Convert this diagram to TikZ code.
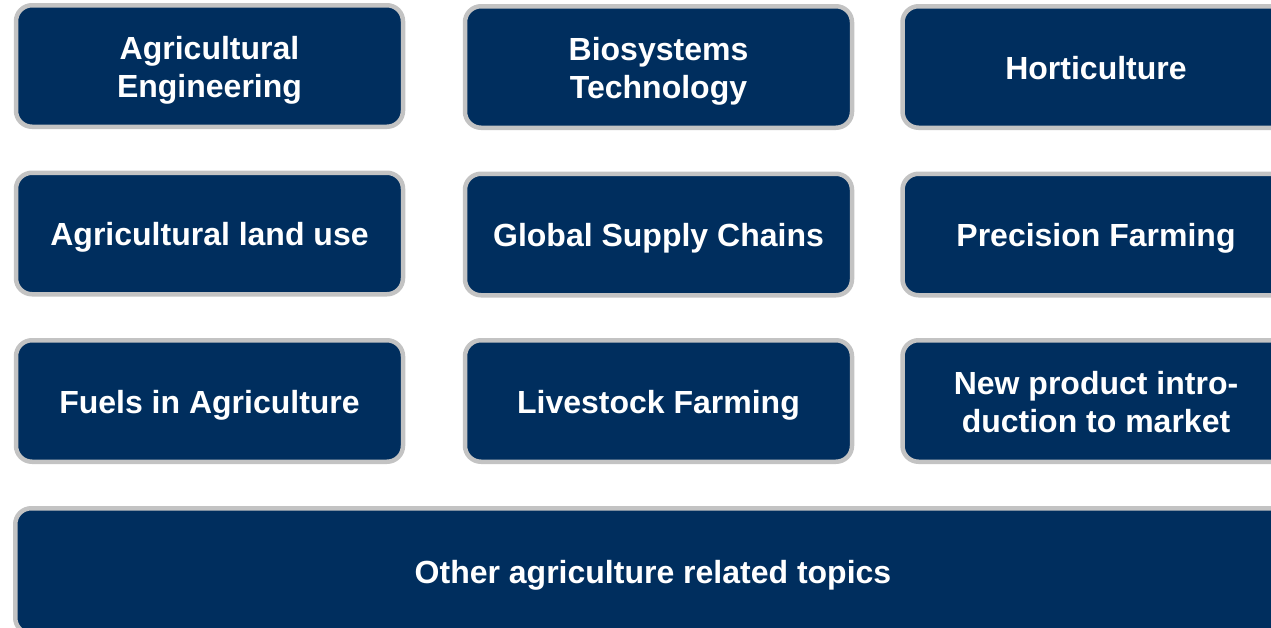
\documentclass[tikz,border=0pt]{standalone}
\usepackage{fontspec}
\setmainfont{Liberation Sans}
\definecolor{navy}{HTML}{002E5E}
\definecolor{rim}{HTML}{C3C3C3}
\newcommand{\twolines}[2]{\rule{0pt}{54pt}\begin{tabular}{@{}c@{}}#1\\#2\end{tabular}}
\begin{document}
\begin{tikzpicture}[x=1pt,y=-1pt,
  tile/.style={rectangle, rounded corners=16pt, draw=rim, line width=4.5pt, fill=navy,
    text=white, font=\bfseries\fontsize{32}{38.5}\selectfont,
    inner sep=0pt, minimum width=387pt, minimum height=121.5pt,
    execute at begin node={\rule[-7pt]{0pt}{38.5pt}}}]
\useasboundingbox (0,0) rectangle (1271,627);
\clip (0,0) rectangle (1271,627);
\node[tile] (ae) at (209.5,66) {\twolines{Agricultural}{Engineering}};
\node[tile] (bt) at (658.5,67) {\twolines{Biosystems}{Technology}};
\node[tile] (ho) at (1096,67) {Horticulture};
\node[tile] (lu) at (209.5,233.5) {Agricultural land use};
\node[tile] (gs) at (658.5,234.5) {Global Supply Chains};
\node[tile] (pf) at (1096,234.5) {Precision Farming};
\node[tile] (fa) at (209.5,401) {Fuels in Agriculture};
\node[tile] (lf) at (658.5,401) {Livestock Farming};
\node[tile] (np) at (1096,401) {\twolines{New product intro-}{duction to market}};
\node[tile, minimum width=1275.5pt, minimum height=125.5pt] (ot) at (653,571) {Other agriculture related topics};
\end{tikzpicture}
\end{document}
